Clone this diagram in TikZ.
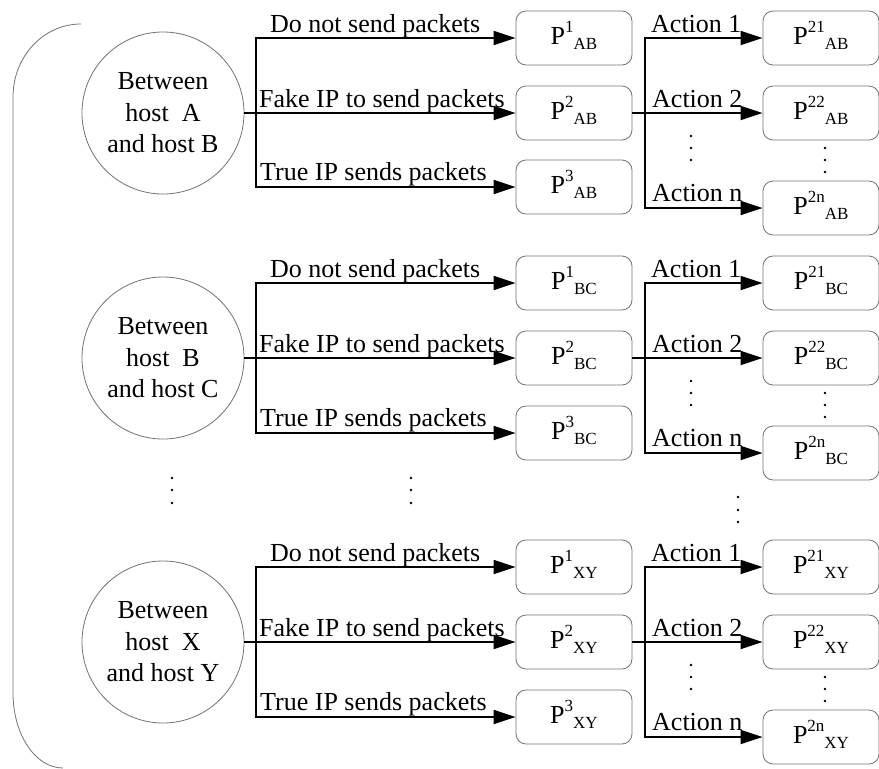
\documentclass[tikz,border=0pt]{standalone}
\usepackage{fontspec}
\setmainfont{Liberation Serif}
\usetikzlibrary{arrows.meta}
\definecolor{rimgray}{RGB}{115,115,115}
% P with a superscript followed by a subscript, set side by side
\newcommand\pterm[2]{{\fontsize{26}{26}\selectfont P\raisebox{12pt}{\fontsize{17}{17}\selectfont #1}\raisebox{-5pt}{\fontsize{17}{17}\selectfont #2}}}
\begin{document}
\begin{tikzpicture}[x=1pt,y=-1pt,
  hostnode/.style={draw=rimgray, line width=0.8pt, circle, minimum size=162pt, inner sep=0pt,
    align=center, font=\fontsize{26}{31.5}\selectfont},
  pbox/.style={draw=rimgray, line width=0.8pt, rounded corners=10pt, minimum width=116pt,
    minimum height=54pt, inner sep=0pt, text height=18pt, text depth=6pt},
  lbl/.style={anchor=base west, inner sep=0pt, font=\fontsize{26}{26}\selectfont},
  wire/.style={line width=1.8pt, black},
  arr/.style={wire, -{Triangle[length=22pt,width=14pt]}},
  dot/.style={fill=black}]
\useasboundingbox (0,0) rectangle (879,769);

% enclosing bracket on the left
\draw[rimgray, line width=0.8pt] (81,24) .. controls (43,24) and (13,57) .. (13,97)
  -- (13,693) .. controls (13,734) and (35,768) .. (63,768);

\foreach \t/\a/\b/\yc/\ya/\yb/\yn in {AB/A/B/113/38/187/208, BC/B/C/358/283/433/453, XY/X/Y/642/567/717/737}{
  % host pair
  \node[hostnode] (c\t) at (163,\yc) {Between\\host~ \a\\and host \b};
  % first-level outcomes
  \node[pbox] (p1\t) at (574,\ya) {\pterm{1}{\t}};
  \node[pbox] (p2\t) at (574,\yc) {\pterm{2}{\t}};
  \node[pbox] (p3\t) at (574,\yb) {\pterm{3}{\t}};
  % second-level outcomes
  \node[pbox] (q1\t) at (821,\ya) {\pterm{21}{\t}};
  \node[pbox] (q2\t) at (821,\yc) {\pterm{22}{\t}};
  \node[pbox] (qn\t) at (821,\yn) {\pterm{2n}{\t}};
  % junctions
  \coordinate (j\t) at (256,\yc);
  \coordinate (k\t) at (645,\yc);
  \draw[wire] (c\t.east) -- (j\t);
  \draw[arr] (j\t) |- (p1\t.west);
  \draw[arr] (j\t) -- (p2\t.west);
  \draw[arr] (j\t) |- (p3\t.west);
  \draw[wire] (p2\t.east) -- (k\t);
  \draw[arr] (k\t) |- (q1\t.west);
  \draw[arr] (k\t) -- (q2\t.west);
  \draw[arr] (k\t) |- (qn\t.west);
  % branch labels
  \node[lbl] (la\t) at (270,\ya-6) {Do not send packets};
  \node[lbl] (lb\t) at (259,\yc-6) {Fake IP to send packets};
  \node[lbl] (lc\t) at (260,\yb-6.5) {True IP sends packets};
  \node[lbl] (ma\t) at (651,\ya-6) {Action 1};
  \node[lbl] (mb\t) at (652,\yc-6) {Action 2};
  \node[lbl] (mn\t) at (652,\yn-7) {Action n};
  % vertical ellipses
  \foreach \d in {23,35,47} \fill[dot] (691,\yc+\d) circle (1.4pt);
  \foreach \d in {35,47,59} \fill[dot] (825,\yc+\d) circle (1.4pt);
}

% ellipses between the second and last host pairs
\foreach \x in {172,411} \foreach \y in {478,490,503} \fill[dot] (\x,\y) circle (1.4pt);
\foreach \y in {497,510,522} \fill[dot] (738,\y) circle (1.4pt);
\end{tikzpicture}
\end{document}
